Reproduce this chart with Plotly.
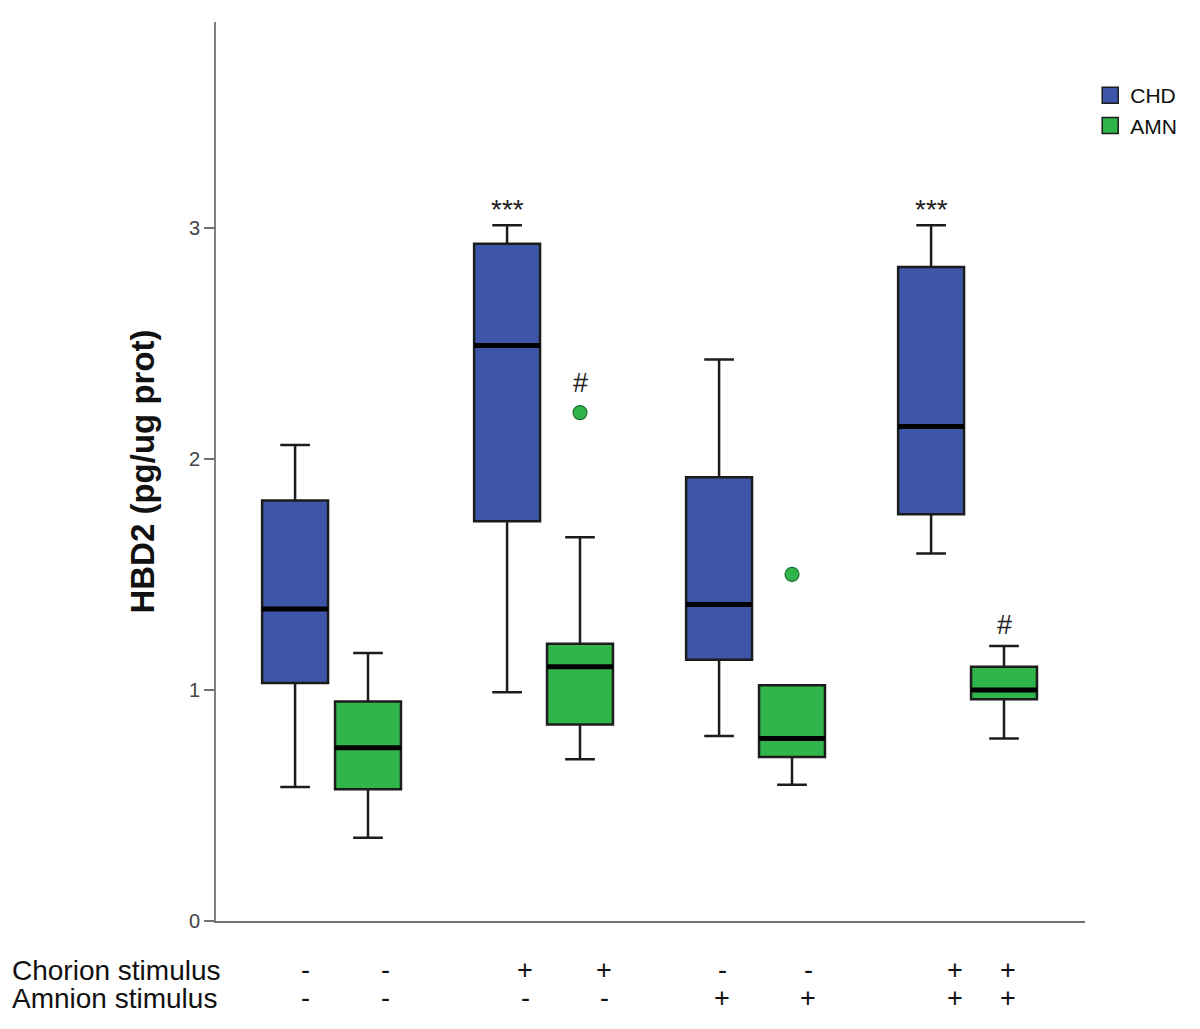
import plotly.graph_objects as go

# ---------------- data ----------------
groups = ["Ctrl", "Chorion", "Amnion", "Chorion+Amnion"]
series = ["CHD", "AMN"]

chd_low = [0.58, 0.99, 0.80, 1.59]
chd_q1 = [1.03, 1.73, 1.13, 1.76]
chd_med = [1.35, 2.49, 1.37, 2.14]
chd_q3 = [1.82, 2.93, 1.92, 2.83]
chd_high = [2.06, 3.01, 2.43, 3.01]

amn_low = [0.36, 0.70, 0.59, 0.79]
amn_q1 = [0.57, 0.85, 0.71, 0.96]
amn_med = [0.75, 1.10, 0.79, 1.00]
amn_q3 = [0.95, 1.20, 1.02, 1.10]
amn_high = [1.16, 1.66, 1.02, 1.19]

amn_outlier_group = [1, 2]
amn_outlier_value = [2.20, 1.50]

chorion_signs = ["-", "-", "+", "+", "-", "-", "+", "+"]
amnion_signs = ["-", "-", "-", "-", "+", "+", "+", "+"]

star_groups = [1, 3]
star_values = [3.08, 3.08]
hash_groups = [1, 3]
hash_values = [2.33, 1.28]

yticks = [0, 1, 2, 3]

# ---------------- style ----------------
BLUE = "#3D56A7"
GREEN = "#2FB54A"
EDGE = "#1c1c1c"
OFF = 0.172
BW = 0.311
FONT = "Liberation Sans, Arial, sans-serif"

fig = go.Figure()

def add_boxes(name, color, low, q1, med, q3, high, offset):
    xs = [i + offset for i in range(len(groups))]
    fig.add_trace(go.Box(
        x=xs, q1=q1, median=med, q3=q3, lowerfence=low, upperfence=high,
        width=BW, whiskerwidth=0.45, fillcolor=color,
        line=dict(color=EDGE, width=2.5), boxpoints=False,
        showlegend=False, name=name, hoverinfo="skip"))
    # thick median line drawn from the median values
    mx, my = [], []
    for x, m in zip(xs, med):
        mx += [x - BW / 2, x + BW / 2, None]
        my += [m, m, None]
    fig.add_trace(go.Scatter(x=mx, y=my, mode="lines",
                             line=dict(color="black", width=5),
                             showlegend=False, hoverinfo="skip"))
    # legend entry
    fig.add_trace(go.Scatter(x=[None], y=[None], mode="markers", name=name,
                             marker=dict(symbol="square", size=22, color=color,
                                         line=dict(color=EDGE, width=1.5))))

add_boxes("CHD", BLUE, chd_low, chd_q1, chd_med, chd_q3, chd_high, -OFF)
add_boxes("AMN", GREEN, amn_low, amn_q1, amn_med, amn_q3, amn_high, OFF)

fig.add_trace(go.Scatter(
    x=[g + OFF for g in amn_outlier_group], y=amn_outlier_value, mode="markers",
    marker=dict(symbol="circle", size=14, color=GREEN,
                line=dict(color="#1f6e2e", width=1.2)),
    showlegend=False, hoverinfo="skip"))

for g, v in zip(star_groups, star_values):
    fig.add_annotation(x=g - OFF, y=v, text="***", showarrow=False,
                       font=dict(family=FONT, size=28, color="#222"))
for g, v in zip(hash_groups, hash_values):
    fig.add_annotation(x=g + OFF, y=v, text="#", showarrow=False,
                       font=dict(family=FONT, size=27, color="#222"))

# page offset of 8px (body margin) is compensated in the margins
PAGE = 8
W, H = 1200 - PAGE, 1029 - PAGE
L, T = 216 - PAGE, 22 - PAGE
pw, ph = 869, 899
R, B = W - L - pw, H - T - ph

sign_px = [305, 385, 525, 604, 722, 808, 955, 1008]
def px_to_paper_x(px):
    return (px - PAGE - L) / pw
def py_to_paper_y(py):
    return (T + ph - (py - PAGE)) / ph

for label, signs, py in [("Chorion stimulus", chorion_signs, 970),
                         ("Amnion stimulus", amnion_signs, 998)]:
    fig.add_annotation(x=px_to_paper_x(10), y=py_to_paper_y(py), xref="paper", yref="paper",
                       text=label, showarrow=False, xanchor="left", yanchor="middle",
                       font=dict(family=FONT, size=28, color="#111"))
    for s, px in zip(signs, sign_px):
        fig.add_annotation(x=px_to_paper_x(px), y=py_to_paper_y(py), xref="paper", yref="paper",
                           text=s, showarrow=False, xanchor="center", yanchor="middle",
                           font=dict(family=FONT, size=27, color="#111"))

fig.update_layout(
    width=W, height=H,
    margin=dict(l=L, r=R, t=T, b=B),
    paper_bgcolor="white", plot_bgcolor="white",
    font=dict(family=FONT, color="#222"),
    legend=dict(x=1.006, y=0.941, xanchor="left", yanchor="top",
                itemsizing="trace", font=dict(family=FONT, size=21, color="#111"),
                bgcolor="rgba(0,0,0,0)", tracegroupgap=0),
    xaxis=dict(range=[-0.545, 3.554], showticklabels=False, ticks="",
               showgrid=False, zeroline=False, showline=True,
               linecolor="#707070", linewidth=2),
    yaxis=dict(range=[0, 3.89], tickvals=yticks, ticks="outside", ticklen=10,
               tickwidth=2, tickcolor="#707070", showgrid=False, zeroline=False,
               showline=True, linecolor="#808080", linewidth=2,
               tickfont=dict(family=FONT, size=20, color="#444"),
               title=dict(text="<b>HBD2 (pg/ug prot)</b>", standoff=24,
                          font=dict(family=FONT, size=33, color="#111"))),
)

fig.write_html("out.html")
